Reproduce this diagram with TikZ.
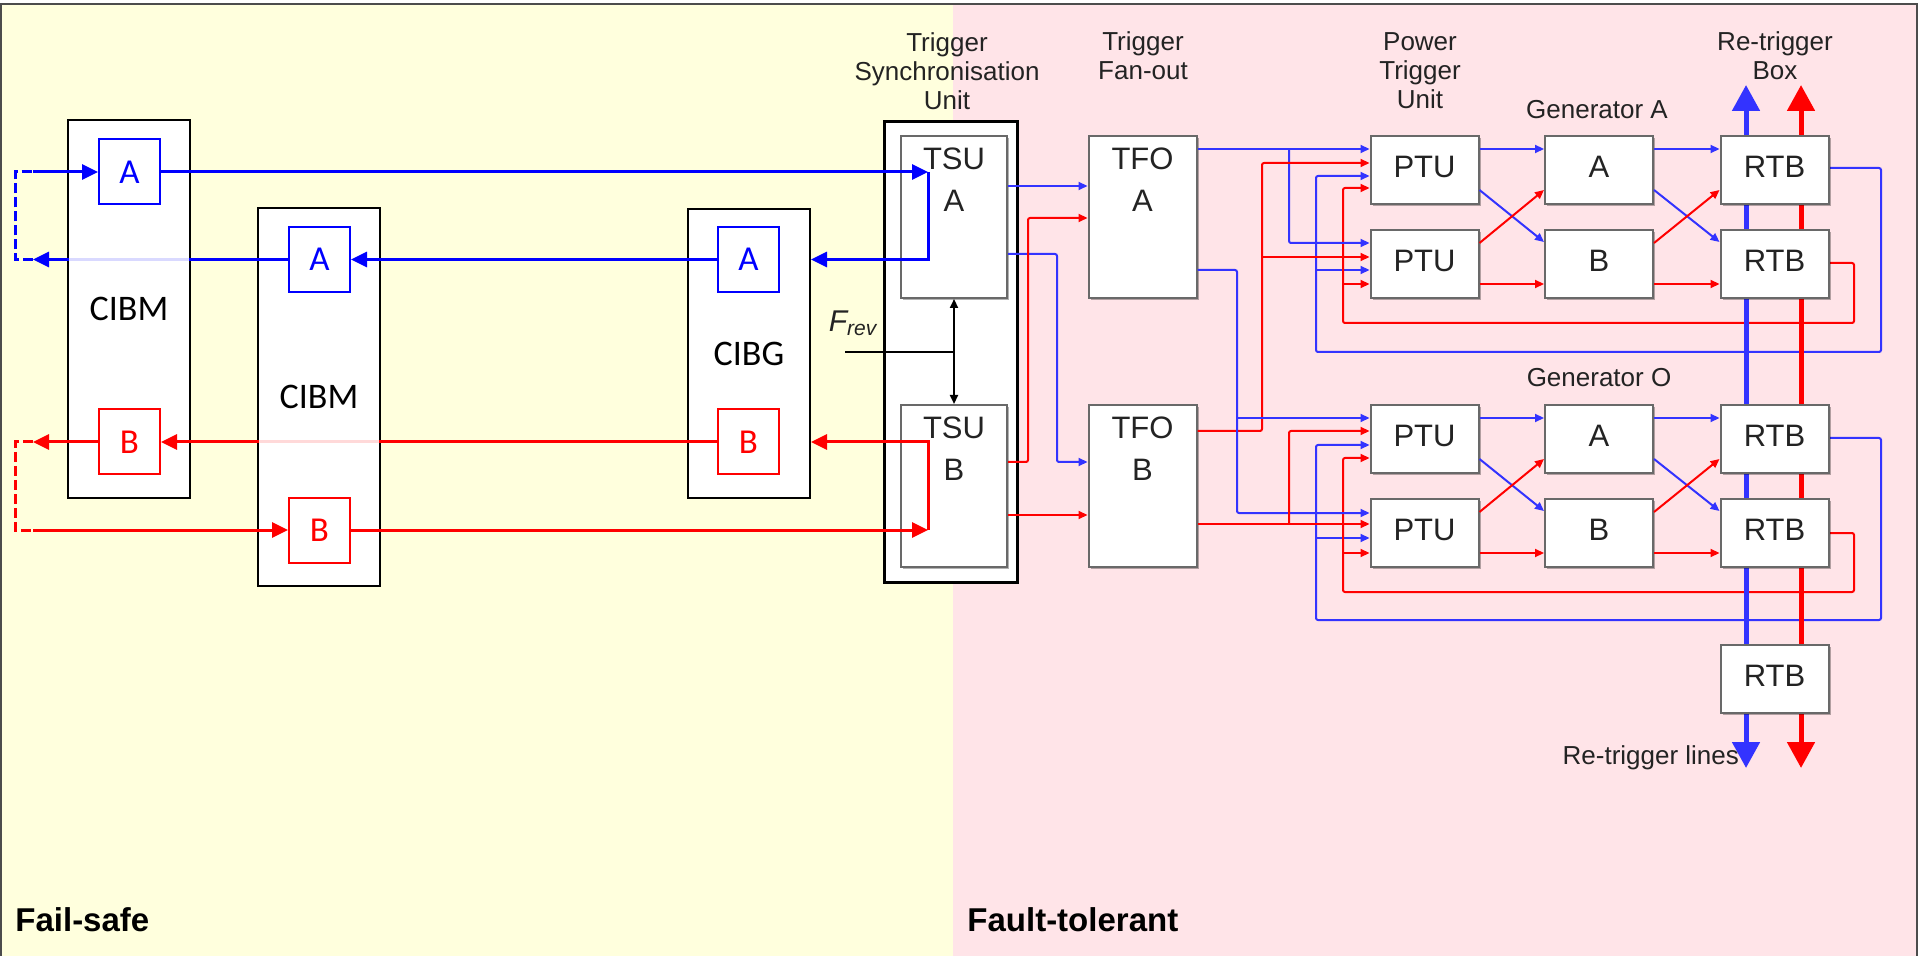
\documentclass[tikz,border=0pt]{standalone}
\usepackage{fontspec}
\setmainfont{Liberation Sans}
\newfontfamily\cibfont{Carlito}
\usetikzlibrary{arrows.meta,shadows}

\definecolor{failbg}{RGB}{255,255,221}
\definecolor{faultbg}{RGB}{255,228,232}
\definecolor{cibblue}{RGB}{0,0,255}
\definecolor{wireblue}{RGB}{51,51,255}
\definecolor{wirered}{RGB}{255,0,0}
\definecolor{unitgray}{RGB}{105,105,105}
\definecolor{labelgray}{RGB}{35,35,35}

\pgfdeclarelayer{back}
\pgfdeclarelayer{wires}
\pgfsetlayers{back,wires,main}

\begin{document}
\begin{tikzpicture}[x=0.5pt, y=-0.5pt, >={Triangle[length=4.5pt,width=4pt]},
    font=\fontsize{13}{14.5}\selectfont, text=labelgray,
    cib/.style={draw=black, line width=1pt, fill=white, minimum width=61pt, inner sep=0pt,
      text=black, font=\cibfont\fontsize{18}{20}\selectfont},
    cibsub/.style={draw=#1, text=#1, line width=1pt, fill=white, minimum width=30.5pt,
      minimum height=32.5pt, inner sep=0pt, font=\cibfont\fontsize{17.5}{20}\selectfont},
    sig/.style={draw=#1, line width=1.5pt, -{Triangle[length=8pt,width=7.5pt]}},
    loopback/.style={draw=#1, line width=1.5pt, dash pattern=on 5pt off 2pt},
    fade/.style={draw=white, draw opacity=0.85, line width=2pt, shorten <=1pt, shorten >=1pt},
    unit/.style={draw=unitgray, line width=1pt, fill=white, minimum width=54pt, minimum height=34pt,
      inner sep=0pt, text depth=3pt, font=\fontsize{15.5}{21}\selectfont,
      drop shadow={shadow xshift=1pt, shadow yshift=-1pt, fill=black, opacity=0.3}},
    tallunit/.style={unit, minimum height=81pt},
    intext/.style={anchor=north, yshift=-3pt, align=center, font=\fontsize{15.5}{21}\selectfont},
    wire/.style={draw=#1, line width=1pt, rounded corners=1pt, ->},
    retrig/.style={draw=#1, line width=2.5pt, {Triangle[length=13pt,width=13.5pt]}-{Triangle[length=13pt,width=13.5pt]}},
    zone/.style={font=\bfseries\fontsize{16.5}{18}\selectfont, text=black, anchor=west, inner sep=0pt}
  ]
  \useasboundingbox (0,0) rectangle (1920,956);

  % Fail-safe and fault-tolerant areas
  \begin{pgfonlayer}{back}
    \fill[failbg] (1,4) rectangle (953,956);
    \fill[faultbg] (953,4) rectangle (1917,956);
    \draw[black!70, line width=1pt] (1,956) -- (1,4) -- (1917,4) -- (1917,956);
  \end{pgfonlayer}
  \node[zone] (failsafe) at (15,920) {Fail-safe};
  \node[zone] (faulttol) at (967,920) {Fault-tolerant};

  % Interlock boxes
  \node[cib, minimum height=189pt] (cibm1) at (129,309) {CIBM};
  \node[cib, minimum height=189pt] (cibm2) at (319,397) {CIBM};
  \node[cib, minimum height=144.5pt] (cibg) at (749,353.5) {CIBG};
  \node[cibsub=cibblue] (cibm1a) at (129.5,172) {A};
  \node[cibsub=wirered] (cibm1b) at (129.5,442) {B};
  \node[cibsub=cibblue] (cibm2a) at (319.5,259.5) {A};
  \node[cibsub=wirered] (cibm2b) at (319.5,530) {B};
  \node[cibsub=cibblue] (cibga) at (748.5,259.5) {A};
  \node[cibsub=wirered] (cibgb) at (748.5,442) {B};

  % Trigger synchronisation and fan-out
  \node[draw=black, line width=1.5pt, fill=white, minimum width=66.5pt, minimum height=230pt] (tsu) at (950.5,352) {};
  \node[tallunit, minimum width=53pt, label={[intext]north:TSU\\A}] (tsua) at (954,217) {};
  \node[tallunit, minimum width=53pt, label={[intext]north:TSU\\B}] (tsub) at (954,486) {};
  \node[tallunit, label={[intext]north:TFO\\A}] (tfoa) at (1142.5,217) {};
  \node[tallunit, label={[intext]north:TFO\\B}] (tfob) at (1142.5,486) {};

  % Power trigger units, generators, re-trigger boxes
  \node[unit] (ptu1) at (1424.5,170) {PTU};
  \node[unit] (ptu2) at (1424.5,264) {PTU};
  \node[unit] (ptu3) at (1424.5,439) {PTU};
  \node[unit] (ptu4) at (1424.5,533) {PTU};
  \node[unit] (gena1) at (1599,170) {A};
  \node[unit] (gena2) at (1599,264) {B};
  \node[unit] (geno1) at (1599,439) {A};
  \node[unit] (geno2) at (1599,533) {B};
  \node[unit] (rtb1) at (1774.5,170) {RTB};
  \node[unit] (rtb2) at (1774.5,264) {RTB};
  \node[unit] (rtb3) at (1774.5,439) {RTB};
  \node[unit] (rtb4) at (1774.5,533) {RTB};
  \node[unit] (rtb5) at (1774.5,678.5) {RTB};

  % Titles
  \node[align=center] (tsulbl) at (947,71) {Trigger\\Synchronisation\\Unit};
  \node[align=center] (tfolbl) at (1143,56) {Trigger\\Fan-out};
  \node[align=center] (ptulbl) at (1420,71) {Power\\Trigger\\Unit};
  \node[align=center] (rtblbl) at (1775,56) {Re-trigger\\Box};
  \node (genalbl) at (1597,110) {Generator A};
  \node (genolbl) at (1599,378) {Generator O};
  \node[font=\fontsize{15}{17}\selectfont] (frev) at (853,323) {\itshape F\textsubscript{rev}};

  \coordinate (tsuinA) at (928,172);
  \coordinate (tsuinB) at (928,530);
  \coordinate (loopA1) at (33,172);
  \coordinate (loopA2) at (33,259.5);
  \coordinate (loopB1) at (33,442);
  \coordinate (loopB2) at (33,530);
  \coordinate (frevin) at (845,352);
  \coordinate (rtbtopb) at (1746,85);
  \coordinate (rtbbotb) at (1746,768);
  \coordinate (rtbtopr) at (1801,85);
  \coordinate (rtbbotr) at (1801,768);
  \node[anchor=east] (rtlines) at (rtbbotb |- 0,758) {Re-trigger lines};

  % Chain A (blue)
  \draw[sig=cibblue] (loopA1) -- (cibm1a.west);
  \draw[sig=cibblue] (cibm1a.east) -- (tsuinA);
  \draw[sig=cibblue] (tsuinA) -- (tsuinA |- cibga) -- (cibg.east |- cibga);
  \draw[sig=cibblue] (cibga.west) -- (cibm2a.east);
  \draw[sig=cibblue] (cibm2a.west) -- (loopA2);
  \draw[fade] (cibm1.west |- cibm2a) -- (cibm1.east |- cibm2a);
  \draw[loopback=cibblue] (loopA2) -- ++(-18,0) |- (loopA1);

  % Chain B (red)
  \draw[sig=wirered] (cibm2b.east) -- (tsuinB);
  \draw[sig=wirered] (tsuinB) -- (tsuinB |- cibgb) -- (cibg.east |- cibgb);
  \draw[sig=wirered] (cibgb.west) -- (cibm1b.east);
  \draw[fade] (cibm2.west |- cibgb) -- (cibm2.east |- cibgb);
  \draw[sig=wirered] (cibm1b.west) -- (loopB1);
  \draw[loopback=wirered] (loopB1) -- ++(-18,0) |- (loopB2);
  \draw[sig=wirered] (loopB2) -- (cibm2b.west);

  % Revolution frequency
  \draw[line width=1pt] (frevin) -- (tsua.south |- frevin);
  \draw[line width=1pt, <->] (tsua.south) -- (tsub.north);

  % TSU -> TFO
  \draw[wire=wireblue] (tsua.east |- 0,186) -- (tfoa.west |- 0,186);
  \draw[wire=wireblue] (tsua.east |- 0,254) -| (1057,462) -- (tfob.west |- 0,462);
  \draw[wire=wirered] (tsub.east |- 0,462) -| (1028,218) -- (tfoa.west |- 0,218);
  \draw[wire=wirered] (tsub.east |- 0,515) -- (tfob.west |- 0,515);

  % TFO -> PTU
  \draw[wire=wireblue] (tfoa.east |- 0,149) -- (ptu1.west |- 0,149);
  \draw[wire=wireblue] (1289,149) |- (ptu2.west |- 0,243);
  \draw[wire=wirered] (tfob.east |- 0,431) -| (1262,163) -- (ptu1.west |- 0,163);
  \draw[wire=wirered] (1262,257) -- (ptu2.west |- 0,257);
  \draw[wire=wireblue] (tfoa.east |- 0,270) -| (1237,513) -- (ptu4.west |- 0,513);
  \draw[wire=wireblue] (1237,418) -- (ptu3.west |- 0,418);
  \draw[wire=wirered] (tfob.east |- 0,524) -- (ptu4.west |- 0,524);
  \draw[wire=wirered] (1289,524) |- (ptu3.west |- 0,431);

  % Generator A
  \draw[wire=wireblue] (ptu1.east |- 0,149) -- (gena1.west |- 0,149);
  \draw[wire=wireblue] (ptu1.east |- 0,190) -- (gena2.west |- 0,242);
  \draw[wire=wirered] (ptu2.east |- 0,243) -- (gena1.west |- 0,190);
  \draw[wire=wirered] (ptu2.east |- 0,284) -- (gena2.west |- 0,284);
  \draw[wire=wireblue] (gena1.east |- 0,149) -- (rtb1.west |- 0,149);
  \draw[wire=wireblue] (gena1.east |- 0,190) -- (rtb2.west |- 0,242);
  \draw[wire=wirered] (gena2.east |- 0,243) -- (rtb1.west |- 0,190);
  \draw[wire=wirered] (gena2.east |- 0,284) -- (rtb2.west |- 0,284);

  % Generator O
  \draw[wire=wireblue] (ptu3.east |- 0,418) -- (geno1.west |- 0,418);
  \draw[wire=wireblue] (ptu3.east |- 0,459) -- (geno2.west |- 0,511);
  \draw[wire=wirered] (ptu4.east |- 0,512) -- (geno1.west |- 0,459);
  \draw[wire=wirered] (ptu4.east |- 0,553) -- (geno2.west |- 0,553);
  \draw[wire=wireblue] (geno1.east |- 0,418) -- (rtb3.west |- 0,418);
  \draw[wire=wireblue] (geno1.east |- 0,459) -- (rtb4.west |- 0,511);
  \draw[wire=wirered] (geno2.east |- 0,512) -- (rtb3.west |- 0,459);
  \draw[wire=wirered] (geno2.east |- 0,553) -- (rtb4.west |- 0,553);

  % Re-trigger feedback and re-trigger lines
  \begin{pgfonlayer}{wires}
    \draw[wire=wireblue] (rtb1.east |- 0,168) -| (1881,352) -| (1316,176) -- (ptu1.west |- 0,176);
    \draw[wire=wireblue] (1316,270) -- (ptu2.west |- 0,270);
    \draw[wire=wirered] (rtb2.east |- 0,263) -| (1854,323) -| (1343,188) -- (ptu1.west |- 0,188);
    \draw[wire=wirered] (1343,284) -- (ptu2.west |- 0,284);
    \draw[wire=wireblue] (rtb3.east |- 0,438) -| (1881,620) -| (1316,445) -- (ptu3.west |- 0,445);
    \draw[wire=wireblue] (1316,538) -- (ptu4.west |- 0,538);
    \draw[wire=wirered] (rtb4.east |- 0,533) -| (1854,592) -| (1343,458) -- (ptu3.west |- 0,458);
    \draw[wire=wirered] (1343,553) -- (ptu4.west |- 0,553);
    \draw[retrig=wireblue] (rtbtopb) -- (rtbbotb);
    \draw[retrig=wirered] (rtbtopr) -- (rtbbotr);
  \end{pgfonlayer}
\end{tikzpicture}
\end{document}
